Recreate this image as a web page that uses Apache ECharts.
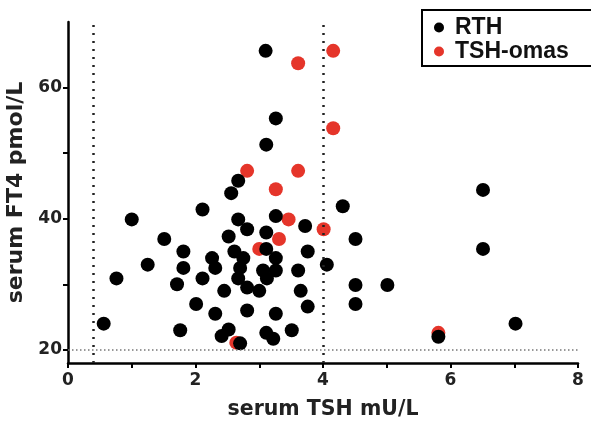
<!DOCTYPE html>
<html>
<head>
    <meta charset="utf-8">
    <title>TSH vs FT4</title>
    <script src="https://cdn.jsdelivr.net/npm/echarts@6/dist/echarts.min.js"></script>
    <style>
    *{margin:0px; padding:0px;}
    body{background:#fff;}
    </style>
</head>
<body>
    <div id="main" style="width: 591px;height:421px;"></div>
    <script type="text/javascript">
        // RTH patients (black)
        var rthTSH = [3.10, 3.26, 3.11, 2.67, 2.56, 6.51, 2.11, 1.00, 2.67, 3.26,
                      3.72, 2.81, 3.11, 2.52, 1.51, 3.11, 2.61, 1.81, 3.76, 2.26,
                      2.75, 3.26, 1.25, 1.81, 2.31, 2.70, 4.06, 3.06, 3.26, 3.61,
                      3.12, 2.67, 0.76, 2.11, 1.71, 2.81, 3.00, 2.45, 3.65, 2.01,
                      3.76, 2.81, 2.31, 3.26, 0.56, 1.76, 2.52, 3.51, 3.11, 2.41,
                      3.22, 2.70, 4.31, 4.51, 6.51, 4.51, 5.01, 4.51, 7.02, 5.81];
        var rthFT4 = [65.6, 55.3, 51.3, 45.8, 43.9, 44.4, 41.4, 39.9, 39.9, 40.4,
                      38.9, 38.4, 37.9, 37.3, 36.9, 35.4, 35.0, 35.0, 35.0, 34.0,
                      34.0, 34.0, 33.0, 32.5, 32.5, 32.5, 33.0, 32.1, 32.1, 32.1,
                      30.9, 30.9, 30.9, 30.9, 30.0, 29.5, 29.0, 29.0, 29.0, 27.0,
                      26.6, 26.0, 25.5, 25.5, 24.0, 23.0, 23.1, 23.0, 22.6, 22.1,
                      21.7, 21.0, 41.9, 36.9, 35.4, 29.9, 29.9, 27.0, 24.0, 22.0];

        // TSH-omas (red)
        var omaTSH = [3.61, 4.16, 4.16, 2.81, 3.61, 3.26, 3.46, 4.01, 3.31, 3.00, 2.64, 5.81];
        var omaFT4 = [63.7, 65.6, 53.8, 47.3, 47.3, 44.5, 39.9, 38.4, 36.9, 35.4, 21.1, 22.6];

        var refTSH = [0.4, 4.0];
        var refFT4 = [20];

        var yTicks = [20, 30, 40, 50, 60];
        var yLabels = [20, 40, 60];

        function pairs(xs, ys) {
            return xs.map(function (x, i) { return [x, ys[i]]; });
        }

        var axisFont = 'DejaVu Sans';
        var legendFont = 'Liberation Sans';
        var myChart = echarts.init(document.getElementById('main'));

        var option = {
            animation: false,
            backgroundColor: '#fff',
            grid: { left: 68, right: 13, top: 22, bottom: 58, outerBoundsMode: 'none', containLabel: false },
            legend: {
                data: ['RTH', 'TSH-omas'],
                orient: 'vertical',
                left: 422,
                top: 10,
                itemWidth: 22,
                itemHeight: 10,
                itemGap: 1,
                icon: 'circle',
                padding: [6, 40, 3, 12],
                borderColor: '#000',
                borderWidth: 2,
                backgroundColor: '#fff',
                textStyle: {
                    fontFamily: legendFont,
                    fontWeight: 'bold',
                    fontSize: 23,
                    color: '#111'
                }
            },
            xAxis: {
                type: 'value',
                min: 0,
                max: 8,
                interval: 1,
                name: 'serum TSH mU/L',
                nameLocation: 'middle',
                nameGap: 36,
                nameTextStyle: { fontFamily: axisFont, fontWeight: 'bold', fontSize: 20.5, color: '#222' },
                splitLine: { show: false },
                axisLine: { lineStyle: { color: '#000', width: 2.5 } },
                axisTick: { length: 5, lineStyle: { color: '#000', width: 2 } },
                axisLabel: {
                    margin: 9,
                    fontFamily: axisFont,
                    fontWeight: 'bold',
                    fontSize: 17,
                    color: '#222',
                    formatter: function (v) { return v % 2 === 0 ? v : ''; }
                }
            },
            yAxis: {
                type: 'value',
                min: 18,
                max: 70,
                name: 'serum FT4 pmol/L',
                nameLocation: 'middle',
                nameGap: 29,
                nameTextStyle: { fontFamily: axisFont, fontWeight: 'bold', fontSize: 22, color: '#222' },
                splitLine: { show: false },
                axisLine: { lineStyle: { color: '#000', width: 2.5 } },
                axisTick: { length: 5, customValues: yTicks, lineStyle: { color: '#000', width: 2 } },
                axisLabel: {
                    margin: 6,
                    customValues: yLabels,
                    fontFamily: axisFont,
                    fontWeight: 'bold',
                    fontSize: 17,
                    color: '#222'
                }
            },
            series: [
                {
                    name: 'ref',
                    type: 'scatter',
                    data: [],
                    z: 1,
                    markLine: {
                        silent: true,
                        symbol: 'none',
                        label: { show: false },
                        data: refTSH.map(function (v) {
                            return { xAxis: v, lineStyle: { color: '#222', type: [2, 6], width: 2.5 } };
                        }).concat(refFT4.map(function (v) {
                            return { yAxis: v, lineStyle: { color: '#777', type: [1.5, 2.5], width: 1.5 } };
                        }))
                    }
                },
                {
                    name: 'TSH-omas',
                    type: 'scatter',
                    z: 2,
                    symbolSize: 14,
                    itemStyle: { color: '#e5352a', opacity: 1 },
                    data: pairs(omaTSH, omaFT4)
                },
                {
                    name: 'RTH',
                    type: 'scatter',
                    z: 3,
                    symbolSize: 14,
                    itemStyle: { color: '#000', opacity: 1 },
                    data: pairs(rthTSH, rthFT4)
                }
            ]
        };

        myChart.setOption(option);
    </script>
</body>
</html>
